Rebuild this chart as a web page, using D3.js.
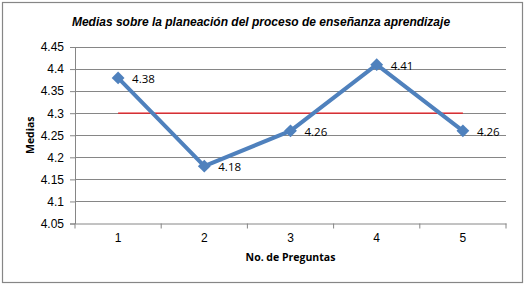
<!DOCTYPE html>
<html>
<head>
<meta charset="utf-8">
<script src="https://cdn.jsdelivr.net/npm/d3@7"></script>
<style>
  body { margin: 0; background: #fff; }
  svg { display: block; }
</style>
</head>
<body>
<div id="chart"></div>
<script>
// Chart data
var preguntas = ['1', '2', '3', '4', '5']
var medias = [4.38, 4.18, 4.26, 4.41, 4.26]
var referencia = [4.3, 4.3, 4.3, 4.3, 4.3]
var yTicks = [4.05, 4.1, 4.15, 4.2, 4.25, 4.3, 4.35, 4.4, 4.45]

var W = 528, H = 287
var margin = {top: 47, right: 22, bottom: 63.5, left: 75}
var width = W - margin.left - margin.right
var height = H - margin.top - margin.bottom

var svg = d3.select('#chart').append('svg')
  .attr('width', W)
  .attr('height', H)

// outer frame
svg.append('rect')
  .attr('x', 2.5).attr('y', 2.5)
  .attr('width', 520).attr('height', 280)
  .attr('fill', '#fff')
  .attr('stroke', '#868686')
  .attr('stroke-width', 1.2)

var g = svg.append('g')
  .attr('transform', 'translate(' + margin.left + ',' + margin.top + ')')

// Scales
var xScale = d3.scaleBand()
  .domain(preguntas)
  .range([0, width])

var yScale = d3.scaleLinear()
  .domain([4.05, 4.45])
  .range([height, 0])

// gridlines
g.append('g')
  .selectAll('line')
  .data(yTicks.slice(1))
  .join('line')
  .attr('x1', 0).attr('x2', width)
  .attr('y1', function(d) { return Math.round(yScale(d)) + 0.5 })
  .attr('y2', function(d) { return Math.round(yScale(d)) + 0.5 })
  .attr('stroke', '#868686')
  .attr('stroke-width', 1)

// Y axis
var yAxis = g.append('g')
  .call(d3.axisLeft(yScale).tickValues(yTicks).tickSize(5).tickPadding(6)
    .tickFormat(function(d) { return d3.format('')(+d.toFixed(2)) }))
yAxis.select('.domain').attr('stroke', '#868686')
yAxis.selectAll('.tick line').attr('stroke', '#868686')
yAxis.selectAll('text')
  .attr('font-family', 'Liberation Sans, Arial, sans-serif')
  .attr('font-size', 12)
  .attr('fill', '#000')

// X axis with ticks at category boundaries
var xAxis = g.append('g')
  .attr('transform', 'translate(0,' + height + ')')
  .call(d3.axisBottom(xScale).tickSize(0).tickPadding(10))
xAxis.select('.domain').attr('stroke', '#868686')
xAxis.selectAll('text')
  .attr('font-family', 'Liberation Sans, Arial, sans-serif')
  .attr('font-size', 12)
  .attr('fill', '#000')
g.append('g')
  .selectAll('line')
  .data(d3.range(preguntas.length + 1))
  .join('line')
  .attr('x1', function(i) { return i * xScale.step() })
  .attr('x2', function(i) { return i * xScale.step() })
  .attr('y1', height).attr('y2', height + 5)
  .attr('stroke', '#868686')

function cx(d, i) { return xScale(preguntas[i]) + xScale.bandwidth() / 2 }

// reference line at 4.3
var refLine = d3.line()
  .x(cx)
  .y(function(d) { return yScale(d) })
g.append('path')
  .datum(referencia)
  .attr('d', refLine)
  .attr('fill', 'none')
  .attr('stroke', '#e8161b')
  .attr('stroke-width', 1.3)

// medias line
var line = d3.line()
  .x(cx)
  .y(function(d) { return yScale(d) })
g.append('path')
  .datum(medias)
  .attr('d', line)
  .attr('fill', 'none')
  .attr('stroke', '#4f81bd')
  .attr('stroke-width', 4)
  .attr('stroke-linejoin', 'round')

// diamond markers
g.append('g')
  .selectAll('path')
  .data(medias)
  .join('path')
  .attr('d', d3.symbol().type(d3.symbolDiamond2).size(105))
  .attr('transform', function(d, i) { return 'translate(' + cx(d, i) + ',' + yScale(d) + ')' })
  .attr('fill', '#4f81bd')

// data labels
g.append('g')
  .selectAll('text')
  .data(medias)
  .join('text')
  .attr('x', function(d, i) { return cx(d, i) + 14 })
  .attr('y', function(d) { return yScale(d) + 1 })
  .attr('dy', '0.35em')
  .attr('font-family', 'Open Sans, sans-serif')
  .attr('font-size', 11.5)
  .attr('fill', '#000')
  .text(function(d) { return d3.format('.2f')(d) })

// title
svg.append('text')
  .attr('x', 261).attr('y', 26)
  .attr('text-anchor', 'middle')
  .attr('font-family', 'Liberation Sans, Arial, sans-serif')
  .attr('font-size', 12)
  .attr('font-weight', 'bold')
  .attr('font-style', 'italic')
  .text('Medias sobre la planeación del proceso de enseñanza aprendizaje')

// axis titles
svg.append('text')
  .attr('transform', 'translate(34,' + (margin.top + height / 2) + ') rotate(-90)')
  .attr('text-anchor', 'middle')
  .attr('font-family', 'Open Sans, sans-serif')
  .attr('font-size', 10.5)
  .attr('font-weight', 'bold')
  .text('Medias')

svg.append('text')
  .attr('x', margin.left + width / 2).attr('y', 261)
  .attr('text-anchor', 'middle')
  .attr('font-family', 'Open Sans, sans-serif')
  .attr('font-size', 10.5)
  .attr('font-weight', 'bold')
  .text('No. de Preguntas')
</script>
</body>
</html>
